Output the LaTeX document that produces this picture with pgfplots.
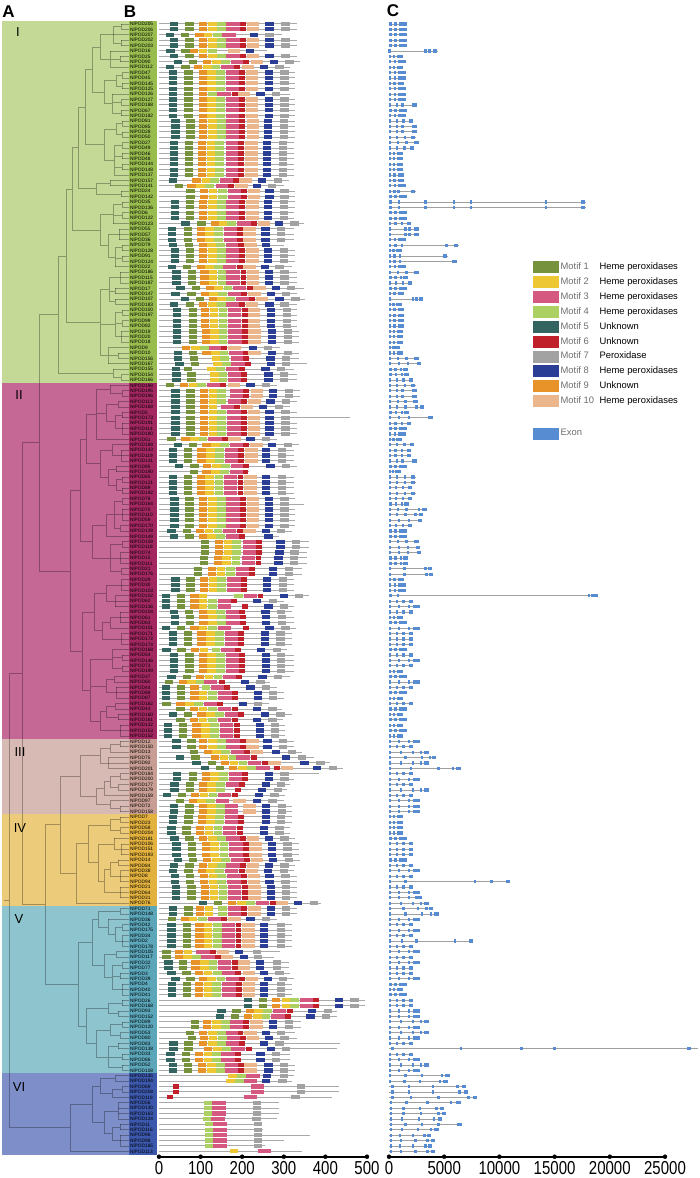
\documentclass[border=0pt]{standalone}
\usepackage{graphicx}
\usepackage{pgfplots}
\pgfplotsset{compat=1.18}
\usepackage{pgfplotstable}
\usepackage{fontspec}
\setmainfont{Liberation Sans}
\definecolor{mA}{RGB}{118,146,60}
\definecolor{mB}{RGB}{238,200,52}
\definecolor{mC}{RGB}{212,88,128}
\definecolor{mD}{RGB}{172,208,98}
\definecolor{mE}{RGB}{52,100,95}
\definecolor{mF}{RGB}{192,32,42}
\definecolor{mG}{RGB}{162,162,162}
\definecolor{mH}{RGB}{42,62,150}
\definecolor{mI}{RGB}{232,146,42}
\definecolor{mJ}{RGB}{236,182,140}
\definecolor{exon}{RGB}{88,140,210}
\definecolor{bline}{RGB}{170,170,170}
\definecolor{cline}{RGB}{160,160,160}
\definecolor{ltext}{RGB}{110,110,110}
\definecolor{Ibg}{RGB}{197,217,150}\definecolor{Ilab}{RGB}{152,188,78}
\definecolor{IIbg}{RGB}{197,104,150}\definecolor{IIlab}{RGB}{163,40,98}
\definecolor{IIIbg}{RGB}{216,186,180}\definecolor{IIIlab}{RGB}{200,158,148}
\definecolor{IVbg}{RGB}{236,204,122}\definecolor{IVlab}{RGB}{227,178,62}
\definecolor{Vbg}{RGB}{142,196,206}\definecolor{Vlab}{RGB}{92,166,186}
\definecolor{VIbg}{RGB}{126,142,200}\definecolor{VIlab}{RGB}{60,88,172}
\pgfdeclareplotmark{bw20}{\pgfpathrectangle{\pgfqpoint{-4.16pt}{-2.1pt}}{\pgfqpoint{8.32pt}{4.2pt}}\pgfusepathqfill}
\pgfdeclareplotmark{bw21}{\pgfpathrectangle{\pgfqpoint{-4.37pt}{-2.1pt}}{\pgfqpoint{8.74pt}{4.2pt}}\pgfusepathqfill}
\pgfdeclareplotmark{bw32}{\pgfpathrectangle{\pgfqpoint{-6.66pt}{-2.1pt}}{\pgfqpoint{13.31pt}{4.2pt}}\pgfusepathqfill}
\pgfdeclareplotmark{bw14}{\pgfpathrectangle{\pgfqpoint{-2.91pt}{-2.1pt}}{\pgfqpoint{5.82pt}{4.2pt}}\pgfusepathqfill}
\pgfdeclareplotmark{bw30}{\pgfpathrectangle{\pgfqpoint{-6.24pt}{-2.1pt}}{\pgfqpoint{12.48pt}{4.2pt}}\pgfusepathqfill}
\pgfdeclareplotmark{exs}{\pgfpathrectangle{\pgfqpoint{-1.2pt}{-1.6pt}}{\pgfqpoint{2.4pt}{3.2pt}}\pgfusepathqfill}
\pgfdeclareplotmark{exl}{\pgfpathrectangle{\pgfqpoint{-2.2pt}{-1.6pt}}{\pgfqpoint{4.4pt}{3.2pt}}\pgfusepathqfill}
\pgfplotstableread{
row tx L m5 m1 m9 m2 m4 m3 m6 m10 m8 m7
1 121 332 36 73 106 128 150 178 202 226 266 304
2 121 332 36 73 106 128 150 178 202 226 266 304
3 113 296 26 63 97 118 140 168 nan nan 228 266
4 121 332 36 73 106 128 150 178 202 226 266 304
5 121 332 36 73 106 128 150 178 202 226 266 304
6 110 259 28 64 84 106 128 nan nan 180 218 nan
7 120 332 36 73 106 128 150 178 202 226 266 304
8 120 340 46 82 116 138 159 188 210 236 276 314
9 110 316 26 64 94 116 137 166 188 214 252 290
10 122 328 34 71 105 126 147 176 199 224 264 302
11 122 328 34 71 105 126 147 176 199 224 264 302
12 122 328 34 71 105 126 147 176 199 224 264 302
13 122 328 34 71 105 126 147 176 199 224 264 302
14 112 316 34 71 105 nan 128 156 182 204 244 282
15 121 328 34 71 105 126 147 176 199 224 264 302
16 121 328 34 71 105 126 147 176 199 224 264 302
17 121 328 34 71 105 126 147 176 199 224 264 302
18 121 328 34 71 105 126 147 176 199 224 264 302
19 122 328 40 76 106 128 150 178 200 226 262 301
20 122 328 40 76 106 128 150 178 200 226 262 301
21 122 328 40 76 106 128 150 178 200 226 262 301
22 122 328 40 76 106 128 150 178 200 226 262 301
23 122 324 36 72 104 126 146 176 198 222 260 298
24 122 324 36 72 104 126 146 176 198 222 260 298
25 122 324 36 72 104 126 146 176 198 222 260 298
26 122 324 36 72 104 126 146 176 198 222 260 298
27 122 324 36 72 104 126 146 176 198 222 260 298
28 122 324 36 72 104 126 146 176 198 222 260 298
29 114 324 36 72 104 126 146 176 198 222 260 298
30 110 312 34 nan 90 113 134 162 186 208 248 286
31 110 300 nan 48 78 100 122 152 174 198 236 272
32 121 328 nan 76 108 130 152 182 204 228 266 302
33 121 328 nan 76 108 130 152 182 204 228 266 302
34 122 328 38 74 106 128 150 178 200 225 262 300
35 122 328 38 74 106 128 150 178 200 225 262 300
36 122 324 38 74 106 128 150 178 200 225 262 300
37 122 324 38 74 106 128 150 178 200 225 262 300
38 113 348 64 102 134 154 175 204 228 252 289 326
39 119 324 32 69 101 122 143 172 194 218 256 294
40 119 324 32 69 101 122 143 172 194 218 256 294
41 119 324 32 69 101 122 143 172 194 218 256 294
42 122 300 34 72 105 126 147 176 198 220 258 nan
43 122 328 38 74 106 128 150 178 200 225 262 300
44 122 328 38 74 106 128 150 178 200 225 262 300
45 122 328 38 74 106 128 150 178 200 225 262 300
46 115 320 32 68 101 122 143 170 194 218 254 290
47 120 332 42 79 109 130 152 178 203 226 264 302
48 120 332 42 79 109 130 152 178 203 226 264 302
49 120 332 42 79 109 130 152 178 203 226 264 302
50 115 348 52 89 122 143 166 194 218 242 282 318
51 115 332 40 78 110 131 153 182 204 230 270 306
52 115 352 62 98 130 150 172 201 223 248 290 328
53 115 332 36 74 106 128 150 177 200 224 266 302
54 122 332 44 81 111 132 154 182 206 228 270 308
55 122 332 44 81 111 132 154 182 206 228 270 308
56 122 332 44 81 111 132 154 182 206 228 270 308
57 122 332 44 81 111 132 154 182 206 228 270 308
58 121 336 44 82 113 134 154 183 207 230 272 310
59 121 336 44 82 113 134 154 183 207 230 272 310
60 121 336 44 82 113 134 154 183 207 230 272 310
61 108 292 nan nan 65 87 110 136 156 182 226 262
62 118 336 46 82 114 135 156 185 208 230 272 310
63 118 336 46 84 nan 137 158 188 210 nan 268 306
64 108 356 49 86 nan 141 162 190 213 nan 270 305
65 113 324 41 70 nan 126 148 177 200 nan 256 293
66 121 332 42 78 nan 133 154 182 205 nan 263 301
67 121 332 42 78 nan 133 154 182 205 nan 263 301
68 110 284 nan 26 60 82 103 131 154 180 220 258
69 122 338 40 76 108 130 150 186 210 236 274 312
70 122 338 40 76 108 130 150 186 210 236 274 312
71 118 332 40 76 108 130 150 182 204 230 268 306
72 118 316 40 76 108 130 nan 166 188 212 250 288
73 122 332 40 76 108 130 150 180 204 228 266 304
74 122 460 40 76 108 130 150 180 204 228 266 304
75 122 332 40 76 108 130 150 180 204 228 266 304
76 122 332 40 76 108 130 150 180 204 228 266 304
77 122 332 40 76 108 130 150 180 204 228 266 304
78 96 284 nan 30 64 86 106 135 158 182 220 258
79 112 336 46 82 114 136 158 186 209 234 272 310
80 121 324 34 70 102 124 146 174 197 222 258 296
81 121 324 34 70 102 124 146 174 197 222 258 296
82 121 324 34 70 102 124 146 174 197 222 258 296
83 116 332 48 85 116 138 159 188 210 nan 268 306
84 116 216 nan 84 114 135 157 186 208 nan nan nan
85 122 324 34 70 101 122 144 172 196 220 258 296
86 122 324 34 70 101 122 144 172 196 220 258 296
87 122 324 34 70 101 122 144 172 196 220 258 296
88 122 324 34 70 101 122 144 172 196 220 258 296
89 122 328 37 73 106 128 150 178 202 226 264 302
90 122 348 37 73 106 128 150 178 202 226 264 302
91 122 328 37 73 106 128 150 178 202 226 264 302
92 122 328 37 73 106 128 150 178 202 226 264 302
93 122 328 37 73 106 128 150 178 202 226 264 302
94 120 328 37 73 106 128 150 178 202 226 264 302
95 120 320 30 67 99 120 142 170 194 218 257 294
96 106 288 36 73 105 126 148 177 200 nan 263 nan
97 122 360 nan 110 144 166 186 218 241 nan 292 330
98 122 360 nan 110 144 166 186 218 241 nan 292 330
99 120 356 nan 110 144 166 186 218 241 nan 290 326
100 120 356 nan 108 142 163 185 215 239 nan 287 324
101 120 356 nan 108 142 163 185 215 239 nan 287 324
102 121 344 nan 94 127 149 171 200 224 nan 274 312
103 121 344 nan 94 127 149 171 200 224 nan 274 312
104 121 324 40 76 108 130 150 180 204 nan 260 298
105 121 324 40 76 108 130 150 180 204 nan 260 298
106 121 324 40 76 108 130 150 180 204 nan 260 298
107 115 360 17 53 85 106 191 220 244 nan 300 336
108 115 300 17 53 85 106 128 157 180 nan 236 274
109 115 324 17 53 85 106 128 157 206 nan 263 300
110 120 320 36 72 106 126 148 177 200 nan 256 294
111 120 324 38 74 107 129 150 178 202 nan 258 296
112 120 324 38 74 107 129 150 178 202 nan 258 296
113 110 330 17 53 85 106 128 157 210 nan 266 304
114 121 320 34 70 102 124 146 174 198 nan 254 292
115 121 320 34 70 102 124 146 174 198 nan 254 292
116 121 320 34 70 102 124 146 174 198 nan 254 292
117 112 308 18 54 87 108 137 166 190 nan 246 284
118 122 324 36 73 105 126 148 176 200 nan 257 294
119 122 324 36 73 105 126 148 176 200 nan 257 294
120 122 324 36 73 105 126 148 176 200 nan 257 294
121 122 324 36 73 105 126 148 176 200 nan 257 294
122 114 316 30 68 99 120 142 170 193 nan 249 286
123 114 268 nan 24 57 78 100 124 152 nan 206 244
124 116 284 17 53 85 nan 113 140 164 nan 220 257
125 116 300 17 53 85 106 128 159 182 nan 238 274
126 116 300 17 53 85 106 128 159 182 nan 238 274
127 115 264 nan 18 52 74 95 124 147 nan 202 238
128 115 296 nan 52 84 106 128 158 182 nan 236 273
129 118 320 34 70 102 124 146 174 198 nan 254 292
130 118 298 nan 52 84 106 128 158 182 nan 236 273
131 120 304 22 58 90 112 134 163 187 nan 242 279
132 120 304 22 58 90 112 134 163 187 nan 242 279
133 120 304 22 58 90 112 134 163 187 nan 242 279
134 120 324 42 78 106 128 150 178 202 225 261 298
135 120 324 42 78 106 128 150 178 202 225 261 298
136 110 344 nan 84 117 138 159 188 212 236 282 319
137 108 372 50 88 134 156 178 202 228 nan 306 344
138 108 412 90 128 159 180 202 230 254 278 350 388
139 108 442 110 146 178 201 222 250 284 308 380 418
140 120 384 44 81 113 134 155 184 207 nan 264 302
141 120 324 44 81 113 134 155 184 207 nan 264 302
142 118 316 37 74 105 126 148 176 199 nan 258 294
143 118 308 37 74 105 126 148 nan 189 nan 248 286
144 104 304 19 55 86 108 130 158 182 nan 241 278
145 110 300 nan 50 81 102 123 152 nan 194 235 273
146 120 320 36 73 105 126 147 175 nan 218 258 296
147 120 320 36 73 105 126 147 175 nan 218 258 296
148 120 320 34 71 103 124 146 174 198 nan 258 294
149 120 320 34 71 103 124 146 174 198 nan 258 294
150 120 316 30 66 98 120 142 170 195 nan 253 290
151 120 316 30 66 98 120 142 170 195 nan 253 290
152 114 328 37 73 106 128 150 178 201 226 265 302
153 121 336 42 79 113 134 156 185 209 232 272 309
154 121 336 42 79 113 134 156 185 209 232 272 309
155 121 336 42 79 113 134 156 185 209 232 272 309
156 118 340 46 82 116 138 159 188 212 236 274 313
157 118 328 36 73 106 128 150 178 202 226 265 302
158 120 324 34 71 103 124 146 175 199 223 262 300
159 120 332 38 74 108 130 151 180 204 228 266 304
160 120 332 38 74 108 130 151 180 204 228 266 304
161 120 332 41 78 110 132 154 182 206 230 269 306
162 120 332 41 78 110 132 154 182 206 230 269 306
163 120 332 41 78 110 132 154 182 206 230 269 306
164 76 390 106 142 176 198 220 248 274 296 334 372
165 120 332 34 71 99 120 153 182 204 230 269 306
166 120 332 34 71 99 120 153 182 204 230 269 306
167 108 284 nan 32 62 82 104 134 156 182 220 258
168 122 320 30 68 97 118 140 167 191 215 252 294
169 122 320 30 68 97 118 140 167 191 215 252 294
170 122 320 30 68 97 118 140 167 191 215 252 294
171 122 320 30 68 97 118 140 167 191 215 252 294
172 122 320 30 68 97 118 140 167 191 215 252 294
173 116 292 nan 18 48 70 nan 106 130 154 193 236
174 116 276 nan 18 48 69 90 118 142 164 204 238
175 122 312 23 58 88 110 130 158 182 204 242 284
176 122 312 23 58 88 110 130 158 182 204 242 284
177 120 316 30 66 96 118 140 168 190 216 252 290
178 120 324 40 76 106 127 149 177 200 224 262 298
179 122 320 31 68 96 118 138 168 192 216 252 294
180 122 320 31 68 96 118 138 168 192 216 252 294
181 122 320 31 68 96 118 138 168 192 216 252 294
182 122 496 214 250 282 305 326 354 378 nan 433 470
183 122 496 214 250 282 305 326 354 378 nan 433 470
184 118 428 150 186 218 240 260 289 314 nan 368 406
185 118 428 146 182 214 236 257 286 310 nan 364 402
186 122 342 nan 87 116 138 160 186 210 234 274 312
187 122 342 nan 87 116 138 160 186 210 234 274 312
188 120 328 nan 74 106 128 150 178 196 220 258 294
189 120 332 nan 80 108 130 152 180 202 226 264 302
190 118 436 35 71 106 128 150 177 199 nan 252 290
191 118 428 35 71 118 140 162 190 216 nan 270 306
192 122 316 28 65 96 118 138 166 189 nan 244 282
193 122 316 28 65 96 118 138 166 189 nan 244 282
194 122 328 34 70 104 126 147 174 197 220 263 300
195 122 328 34 70 104 126 147 174 197 220 263 300
196 115 324 nan nan nan 177 198 226 nan nan 260 300
197 115 320 nan nan nan 172 194 220 nan nan 258 297
198 122 432 nan nan nan nan nan 236 40 nan nan 342
199 122 432 nan nan nan nan nan 236 40 nan nan 342
200 112 416 nan nan nan nan nan 220 26 nan nan 328
201 118 288 nan nan nan nan 118 144 nan nan nan 236
202 118 288 nan nan nan nan 118 144 nan nan nan 236
203 118 288 nan nan nan nan 118 144 nan nan nan 236
204 118 284 nan nan nan nan 116 142 nan nan nan 234
205 120 248 nan nan nan nan 120 147 nan nan nan 238
206 120 250 nan nan nan nan 120 147 nan nan nan 238
207 120 364 nan nan nan nan 120 147 nan nan nan 238
208 120 300 nan nan nan nan 120 147 nan nan nan 238
209 120 254 nan nan nan nan 120 147 nan nan nan 238
210 70 344 nan nan nan 180 nan 254 nan nan nan nan
}\B
\pgfplotstableread{
row G e1 e2 e3 e4 e5 e6 eL
1 1600 120 580 1040 nan nan nan 1400
2 1600 120 580 1040 nan nan nan 1400
3 1600 120 580 1040 nan nan nan 1400
4 1600 120 580 1040 nan nan nan 1400
5 1600 120 580 1040 nan nan nan 1400
6 4400 50 3300 3650 nan nan nan 4150
7 1300 100 450 800 nan nan nan 1100
8 1500 100 520 950 nan nan nan 1300
9 1300 100 450 800 nan nan nan 1100
10 1500 100 520 950 nan nan nan 1300
11 1500 100 520 950 nan nan nan 1300
12 1400 100 480 880 nan nan nan 1200
13 1500 100 520 950 nan nan nan 1300
14 1500 100 520 950 nan nan nan 1300
15 1500 100 520 950 nan nan nan 1300
16 2500 100 700 1240 nan nan nan 2300
17 1600 120 580 1040 nan nan nan 1400
18 1500 100 520 950 nan nan nan 1300
19 2200 100 700 1300 nan nan nan 2000
20 2500 100 700 1240 nan nan nan 2300
21 2500 100 700 1240 nan nan nan 2300
22 2400 100 750 1450 nan nan nan 2200
23 2700 100 800 1600 nan nan nan 2500
24 2300 100 700 1400 nan nan nan 2100
25 1300 100 450 800 nan nan nan 1100
26 1300 100 450 800 nan nan nan 1100
27 1300 100 450 800 nan nan nan 1100
28 1300 100 450 800 nan nan nan 1100
29 1400 100 480 880 nan nan nan 1200
30 1400 100 480 880 nan nan nan 1200
31 1500 100 520 950 nan nan nan 1300
32 2400 100 500 850 nan nan nan 2200
33 1600 120 580 1040 nan nan nan 1400
34 17800 150 900 3300 5900 7450 14200 17550
35 17800 150 900 3300 5900 7450 14200 17550
36 1600 120 580 1040 nan nan nan 1400
37 1600 120 580 1040 nan nan nan 1400
38 2000 100 600 1200 nan nan nan 1800
39 2700 100 1500 1850 nan nan nan 2500
40 2700 100 1500 1850 nan nan nan 2500
41 1500 100 520 950 nan nan nan 1300
42 6300 100 600 1200 5200 nan nan 6050
43 1200 100 400 700 nan nan nan 1000
44 5300 100 500 1000 nan nan nan 5050
45 6200 100 500 1000 nan nan nan 5950
46 1500 100 520 950 nan nan nan 1300
47 2700 100 800 1600 nan nan nan 2500
48 1700 120 600 1100 nan nan nan 1500
49 2100 100 650 1250 nan nan nan 1900
50 1600 120 580 1040 nan nan nan 1400
51 1400 100 480 880 nan nan nan 1200
52 3100 100 2150 2500 nan nan nan 2900
53 1200 100 400 700 nan nan nan 1000
54 1400 100 480 880 nan nan nan 1200
55 1400 100 480 880 nan nan nan 1200
56 1400 100 480 880 nan nan nan 1200
57 1400 100 480 880 nan nan nan 1200
58 1300 100 450 800 nan nan nan 1100
59 1300 100 450 800 nan nan nan 1100
60 1300 100 450 800 nan nan nan 1100
61 1000 100 350 600 nan nan nan 820
62 1300 100 450 800 nan nan nan 1100
63 2700 100 800 1600 nan nan nan 2500
64 2900 100 900 1700 nan nan nan 2700
65 1700 120 600 1100 nan nan nan 1500
66 1800 120 650 1150 nan nan nan 1600
67 2200 100 700 1300 nan nan nan 2000
68 2400 100 750 1450 nan nan nan 2200
69 2500 100 700 1240 nan nan nan 2300
70 2500 100 700 1240 nan nan nan 2300
71 2600 100 800 1500 nan nan nan 2400
72 3200 100 700 1500 2500 nan nan 3000
73 1800 120 650 1150 nan nan nan 1600
74 4000 100 900 1800 nan nan nan 3750
75 2000 100 600 1200 nan nan nan 1800
76 1600 120 580 1040 nan nan nan 1400
77 1500 100 520 950 nan nan nan 1300
78 1200 100 400 700 nan nan nan 1000
79 2300 100 700 1400 nan nan nan 2100
80 2000 100 600 1200 nan nan nan 1800
81 2000 100 600 1200 nan nan nan 1800
82 2500 100 700 1240 nan nan nan 2300
83 1600 120 580 1040 nan nan nan 1400
84 1100 100 380 650 nan nan nan 900
85 2400 100 750 1450 nan nan nan 2200
86 2400 100 750 1450 nan nan nan 2200
87 2100 100 650 1250 nan nan nan 1900
88 2400 100 750 1450 nan nan nan 2200
89 2100 100 650 1250 nan nan nan 1900
90 1800 120 650 1150 nan nan nan 1600
91 3400 100 800 1600 2700 nan nan 3200
92 3100 100 700 1500 2400 nan nan 2900
93 3000 100 900 1800 nan nan nan 2800
94 2100 100 650 1250 nan nan nan 1900
95 1600 120 580 1040 nan nan nan 1400
96 1600 120 580 1040 nan nan nan 1400
97 2700 100 800 1600 nan nan nan 2500
98 2800 100 900 1700 nan nan nan 2600
99 2900 100 900 1700 nan nan nan 2700
100 1700 120 600 1100 nan nan nan 1500
101 1700 120 600 1100 nan nan nan 1500
102 3900 100 1400 3300 nan nan nan 3700
103 4000 100 1400 3400 nan nan nan 3800
104 1400 100 480 880 nan nan nan 1200
105 1500 100 520 950 nan nan nan 1300
106 1500 100 520 950 nan nan nan 1300
107 18900 150 800 18100 18400 nan nan 18700
108 2200 100 700 1300 nan nan nan 2000
109 2800 100 900 1800 2300 nan nan 2600
110 2200 100 700 1300 nan nan nan 2000
111 1300 100 450 800 nan nan nan 1100
112 1600 120 580 1040 nan nan nan 1400
113 2800 100 900 1800 2300 nan nan 2600
114 2200 100 700 1300 nan nan nan 2000
115 2200 100 700 1300 nan nan nan 2000
116 2200 100 700 1300 nan nan nan 2000
117 1600 120 580 1040 nan nan nan 1400
118 2200 100 700 1300 nan nan nan 2000
119 2800 100 900 1800 2300 nan nan 2600
120 2200 100 700 1300 nan nan nan 2000
121 1300 100 450 800 nan nan nan 1100
122 1600 120 580 1040 nan nan nan 1400
123 2800 100 900 1800 2300 nan nan 2600
124 2200 100 700 1300 nan nan nan 2000
125 1600 120 580 1040 nan nan nan 1400
126 1300 100 450 800 nan nan nan 1100
127 2200 100 700 1300 nan nan nan 2000
128 1600 120 580 1040 nan nan nan 1400
129 1300 100 450 800 nan nan nan 1100
130 1600 120 580 1040 nan nan nan 1400
131 1300 100 450 800 nan nan nan 1100
132 1600 120 580 1040 nan nan nan 1400
133 1300 100 450 800 nan nan nan 1100
134 2800 100 900 1800 2300 nan nan 2600
135 2200 100 700 1300 nan nan nan 2000
136 3600 100 1100 2200 2900 nan nan 3400
137 4300 100 1500 3000 3700 nan nan 4100
138 3600 100 1100 2200 2900 nan nan 3400
139 6500 100 2000 4500 5800 nan nan 6300
140 2200 100 700 1300 nan nan nan 2000
141 2800 100 900 1800 2300 nan nan 2600
142 2200 100 700 1300 nan nan nan 2000
143 3600 100 1100 2200 2900 nan nan 3400
144 2200 100 700 1300 nan nan nan 2000
145 2800 100 900 1800 2300 nan nan 2600
146 2800 100 900 1800 2300 nan nan 2600
147 2800 100 900 1800 2300 nan nan 2600
148 1300 100 450 800 nan nan nan 1100
149 1300 100 450 800 nan nan nan 1100
150 1300 100 450 800 nan nan nan 1100
151 1300 100 450 800 nan nan nan 1100
152 1600 120 580 1040 nan nan nan 1400
153 2200 100 700 1300 nan nan nan 2000
154 2200 100 700 1300 nan nan nan 2000
155 2200 100 700 1300 nan nan nan 2000
156 1600 120 580 1040 nan nan nan 1400
157 2200 100 700 1300 nan nan nan 2000
158 2800 100 900 1800 2300 nan nan 2600
159 2200 100 700 1300 nan nan nan 2000
160 11000 100 1500 7800 9300 nan nan 10800
161 2200 100 700 1300 nan nan nan 2000
162 2800 100 900 1800 2300 nan nan 2600
163 3000 100 900 1800 2500 nan nan 2800
164 3600 100 1100 2200 2900 nan nan 3400
165 4000 100 1300 2600 3400 nan nan 3800
166 4500 100 1500 3000 3800 nan nan 4300
167 2800 100 900 1800 2300 nan nan 2600
168 2200 100 700 1300 nan nan nan 2000
169 2800 100 900 1800 2300 nan nan 2600
170 2200 100 700 1300 nan nan nan 2000
171 7600 100 1200 2500 6000 nan nan 7400
172 2200 100 700 1300 nan nan nan 2000
173 2800 100 900 1800 2300 nan nan 2600
174 2200 100 700 1300 nan nan nan 2000
175 2800 100 900 1800 2300 nan nan 2600
176 2200 100 700 1300 nan nan nan 2000
177 2200 100 700 1300 nan nan nan 2000
178 2800 100 900 1800 2300 nan nan 2600
179 1600 120 580 1040 nan nan nan 1400
180 1300 100 450 800 nan nan nan 1100
181 1600 120 580 1040 nan nan nan 1400
182 2200 100 700 1300 nan nan nan 2000
183 2200 100 700 1300 nan nan nan 2000
184 2800 100 900 1800 2300 nan nan 2600
185 2800 100 900 1800 2300 nan nan 2600
186 3600 100 1100 2200 2900 nan nan 3400
187 2800 100 900 1800 2300 nan nan 2600
188 3600 100 1100 2200 2900 nan nan 3400
189 2800 100 900 1800 2300 nan nan 2600
190 2200 100 700 1300 nan nan nan 2000
191 28000 300 6500 12000 15000 nan nan 27200
192 2200 100 700 1300 nan nan nan 2000
193 2800 100 900 1800 2300 nan nan 2600
194 3600 100 1100 2200 2900 nan nan 3400
195 2800 100 900 1800 2300 nan nan 2600
196 5500 100 1500 3000 4800 nan nan 5300
197 5300 100 1400 2800 4600 nan nan 5100
198 7000 300 1800 4000 6200 nan nan 6800
199 7200 300 1800 4000 6400 nan nan 7000
200 8000 300 2000 4500 7200 nan nan 7800
201 6500 200 1600 3500 5600 nan nan 6300
202 5000 200 1300 2800 4300 nan nan 4800
203 5200 200 1300 2900 4500 nan nan 5000
204 4800 200 1200 2700 4100 nan nan 4600
205 6600 200 1500 3000 4500 nan nan 6400
206 4500 200 1200 2600 3800 nan nan 4300
207 3800 200 1000 2200 3200 nan nan 3600
208 4200 200 1100 2400 3500 nan nan 4000
209 3900 200 1000 2200 3300 nan nan 3700
210 4200 200 1100 2400 3500 nan nan 4000
}\C
\begin{document}
\begin{tikzpicture}
\useasboundingbox (0,0) rectangle (699pt,1178pt);
% ---------------- panel A: tree ----------------
\begin{axis}[at={(0pt,21.3pt)}, anchor=south west, scale only axis,
  width=157pt, height=1138.1pt, xmin=0, xmax=157, ymin=0, ymax=211,
  y dir=reverse, hide axis, clip=false]
\addplot[fill=Ibg, draw=none] coordinates {(2,0.5)(129,0.5)(129,67.5)(2,67.5)};
\addplot[fill=Ilab, draw=none] coordinates {(129,0.5)(157,0.5)(157,67.5)(129,67.5)};
\addplot[fill=IIbg, draw=none] coordinates {(2,67.5)(129,67.5)(129,133.5)(2,133.5)};
\addplot[fill=IIlab, draw=none] coordinates {(129,67.5)(157,67.5)(157,133.5)(129,133.5)};
\addplot[fill=IIIbg, draw=none] coordinates {(2,133.5)(129,133.5)(129,147.5)(2,147.5)};
\addplot[fill=IIIlab, draw=none] coordinates {(129,133.5)(157,133.5)(157,147.5)(129,147.5)};
\addplot[fill=IVbg, draw=none] coordinates {(2,147.5)(129,147.5)(129,164.5)(2,164.5)};
\addplot[fill=IVlab, draw=none] coordinates {(129,147.5)(157,147.5)(157,164.5)(129,164.5)};
\addplot[fill=Vbg, draw=none] coordinates {(2,164.5)(129,164.5)(129,195.5)(2,195.5)};
\addplot[fill=Vlab, draw=none] coordinates {(129,164.5)(157,164.5)(157,195.5)(129,195.5)};
\addplot[fill=VIbg, draw=none] coordinates {(2,195.5)(129,195.5)(129,210.7)(2,210.7)};
\addplot[fill=VIlab, draw=none] coordinates {(129,195.5)(157,195.5)(157,210.7)(129,210.7)};
\addplot[draw=black, opacity=0.3, line width=0.7pt, unbounded coords=jump] coordinates {
(121,1)(121,2)(nan,nan)(121,4)(121,5)(nan,nan)
(121,1.5)(113,1.5)(113,4.5)(121,4.5)(nan,nan)
(120,7)(120,8)(nan,nan)(110,6)(110,9)(nan,nan)(110,7.5)(120,7.5)(nan,nan)
(113,3)(100,3)(100,7.5)(110,7.5)(nan,nan)
(122,10)(122,11)(nan,nan)(122,12)(122,13)(nan,nan)
(122,10.5)(116,10.5)(116,12.5)(122,12.5)(nan,nan)
(121,15)(121,16)(nan,nan)(121,17)(121,18)(nan,nan)
(112,14)(112,17.5)(121,17.5)(nan,nan)(112,15.5)(121,15.5)(nan,nan)
(116,11.5)(104,11.5)(104,15.75)(112,15.75)(nan,nan)
(100,5.25)(92,5.25)(92,13.6)(104,13.6)(nan,nan)
(122,19)(122,20)(nan,nan)(122,21)(122,22)(nan,nan)
(122,19.5)(116,19.5)(116,21.5)(122,21.5)(nan,nan)
(122,23)(122,24)(nan,nan)(122,25)(122,26)(nan,nan)(122,27)(122,28)(nan,nan)
(122,23.5)(114,23.5)(114,29)(nan,nan)(114,25.5)(122,25.5)(nan,nan)(114,27.5)(122,27.5)(nan,nan)
(116,20.5)(104,20.5)(104,26.25)(114,26.25)(nan,nan)
(92,9.4)(85,9.4)(85,23.4)(104,23.4)(nan,nan)
(110,30)(110,31)(nan,nan)(121,32)(121,33)(nan,nan)
(110,30.5)(96,30.5)(96,32.5)(121,32.5)(nan,nan)
(85,16.4)(78,16.4)(78,31.5)(96,31.5)(nan,nan)
(122,34)(122,35)(nan,nan)(122,36)(122,37)(nan,nan)
(122,34.5)(113,34.5)(113,38)(nan,nan)(113,36.5)(122,36.5)(nan,nan)
(119,39)(119,41)(nan,nan)(122,42)(122,43)(nan,nan)(122,44)(122,45)(nan,nan)
(122,42.5)(115,42.5)(115,46)(nan,nan)(115,44.5)(122,44.5)(nan,nan)
(119,40)(108,40)(108,44.25)(115,44.25)(nan,nan)
(113,36.25)(100,36.25)(100,42.1)(108,42.1)(nan,nan)
(78,23.95)(72,23.95)(72,39.2)(100,39.2)(nan,nan)
(120,47)(120,49)(nan,nan)(115,50)(115,51)(nan,nan)(115,52)(115,53)(nan,nan)
(120,48)(109,48)(109,52.5)(115,52.5)(nan,nan)(109,50.5)(115,50.5)(nan,nan)
(122,54)(122,55)(nan,nan)(122,56)(122,57)(nan,nan)(121,58)(121,60)(nan,nan)
(122,54.5)(115,54.5)(115,59)(121,59)(nan,nan)(115,56.5)(122,56.5)(nan,nan)
(118,62)(118,63)(nan,nan)(108,61)(108,64)(nan,nan)(108,62.5)(118,62.5)(nan,nan)
(109,50.25)(100,50.25)(100,62.5)(108,62.5)(nan,nan)(100,56.75)(115,56.75)(nan,nan)
(72,31.6)(66,31.6)(66,56.4)(100,56.4)(nan,nan)
(121,66)(121,67)(nan,nan)(113,65)(113,66.5)(121,66.5)(nan,nan)
(66,44)(58,44)(58,65.75)(113,65.75)(nan,nan)
(122,69)(122,70)(nan,nan)(110,68)(110,69.5)(122,69.5)(nan,nan)
(118,71)(118,72)(nan,nan)(122,73)(122,74)(nan,nan)(122,75)(122,77)(nan,nan)
(122,73.5)(115,73.5)(115,76)(122,76)(nan,nan)
(118,71.5)(106,71.5)(106,74.75)(115,74.75)(nan,nan)
(110,68.75)(96,68.75)(96,78)(nan,nan)(96,73.1)(106,73.1)(nan,nan)
(121,80)(121,82)(nan,nan)(112,79)(112,81)(121,81)(nan,nan)
(116,83)(116,84)(nan,nan)(122,85)(122,86)(nan,nan)(122,87)(122,88)(nan,nan)
(122,85.5)(116,85.5)(116,87.5)(122,87.5)(nan,nan)
(116,83.5)(108,83.5)(108,86.5)(116,86.5)(nan,nan)
(112,80)(100,80)(100,85)(108,85)(nan,nan)
(122,89)(122,90)(nan,nan)(122,91)(122,93)(nan,nan)(120,94)(120,95)(nan,nan)
(122,89.5)(114,89.5)(114,94.5)(120,94.5)(nan,nan)(114,92)(122,92)(nan,nan)
(114,92)(106,92)(106,96)(nan,nan)
(122,97)(122,98)(nan,nan)(120,99)(120,101)(nan,nan)(121,102)(121,103)(nan,nan)
(122,97.5)(110,97.5)(110,102.5)(121,102.5)(nan,nan)(110,100)(120,100)(nan,nan)
(106,94)(92,94)(92,100)(110,100)(nan,nan)
(121,104)(121,106)(nan,nan)(115,107)(115,109)(nan,nan)
(121,105)(106,105)(106,108)(115,108)(nan,nan)
(120,110)(120,112)(nan,nan)(120,111)(110,111)(110,113)(nan,nan)
(121,114)(121,116)(nan,nan)(110,112)(102,112)(102,115)(121,115)(nan,nan)
(106,106.5)(94,106.5)(94,113.5)(102,113.5)(nan,nan)
(122,118)(122,119)(nan,nan)(122,120)(122,121)(nan,nan)
(112,117)(112,120.5)(122,120.5)(nan,nan)(112,118.5)(122,118.5)(nan,nan)
(114,122)(114,123)(nan,nan)(116,124)(116,126)(nan,nan)
(114,122.5)(106,122.5)(106,125)(116,125)(nan,nan)
(115,127)(115,128)(nan,nan)(118,129)(118,130)(nan,nan)
(115,127.5)(106,127.5)(106,129.5)(118,129.5)(nan,nan)
(120,131)(120,133)(nan,nan)(106,128.5)(100,128.5)(100,132)(120,132)(nan,nan)
(112,118.75)(90,118.75)(90,130.25)(100,130.25)(nan,nan)(90,123.75)(106,123.75)(nan,nan)
(96,73.4)(86,73.4)(86,82.5)(100,82.5)(nan,nan)
(86,77.95)(80,77.95)(80,97)(92,97)(nan,nan)
(94,110)(82,110)(82,124.5)(90,124.5)(nan,nan)
(80,87.5)(70,87.5)(70,117.25)(82,117.25)(nan,nan)
(120,134)(120,135)(nan,nan)(120,134.5)(110,134.5)(110,136)(nan,nan)
(108,137)(108,139)(nan,nan)(110,135.25)(100,135.25)(100,138)(108,138)(nan,nan)
(120,140)(120,141)(nan,nan)(118,142)(118,143)(nan,nan)
(120,140.5)(110,140.5)(110,142.5)(118,142.5)(nan,nan)
(110,141.5)(104,141.5)(104,144)(nan,nan)
(120,146)(120,147)(nan,nan)(110,145)(110,146.5)(120,146.5)(nan,nan)
(104,142.75)(96,142.75)(96,145.75)(110,145.75)(nan,nan)
(100,136.6)(80,136.6)(80,144.25)(96,144.25)(nan,nan)
(120,148)(120,149)(nan,nan)(120,150)(120,151)(nan,nan)
(120,148.5)(110,148.5)(110,150.5)(120,150.5)(nan,nan)
(121,153)(121,155)(nan,nan)(114,152)(114,154)(121,154)(nan,nan)
(118,156)(118,157)(nan,nan)(120,158)(120,160)(nan,nan)
(118,156.5)(110,156.5)(110,159)(120,159)(nan,nan)
(120,161)(120,163)(nan,nan)(110,157.75)(104,157.75)(104,162)(120,162)(nan,nan)
(114,153)(98,153)(98,159.9)(104,159.9)(nan,nan)
(110,149.5)(88,149.5)(88,156.4)(98,156.4)(nan,nan)
(88,152.95)(76,152.95)(76,164)(nan,nan)
(120,165)(120,166)(nan,nan)(122,168)(122,169)(nan,nan)(122,170)(122,172)(nan,nan)
(122,168.5)(115,168.5)(115,171)(122,171)(nan,nan)
(108,167)(108,169.75)(115,169.75)(nan,nan)
(120,165.5)(98,165.5)(98,168.4)(108,168.4)(nan,nan)
(116,173)(116,174)(nan,nan)(122,175)(122,176)(nan,nan)(120,177)(120,178)(nan,nan)(122,179)(122,181)(nan,nan)
(122,175.5)(112,175.5)(112,180)(122,180)(nan,nan)(112,177.5)(120,177.5)(nan,nan)
(116,173.5)(104,173.5)(104,177.75)(112,177.75)(nan,nan)
(98,166.95)(92,166.95)(92,175.6)(104,175.6)(nan,nan)
(122,182)(122,183)(nan,nan)(118,184)(118,185)(nan,nan)
(122,182.5)(108,182.5)(108,184.5)(118,184.5)(nan,nan)
(122,186)(122,187)(nan,nan)(120,188)(120,189)(nan,nan)
(122,186.5)(110,186.5)(110,188.5)(120,188.5)(nan,nan)
(118,190)(118,191)(nan,nan)(122,192)(122,193)(nan,nan)(122,194)(122,195)(nan,nan)
(118,190.5)(108,190.5)(108,194.5)(122,194.5)(nan,nan)(108,192.5)(122,192.5)(nan,nan)
(110,187.5)(96,187.5)(96,192.5)(108,192.5)(nan,nan)
(108,183.5)(86,183.5)(86,190)(96,190)(nan,nan)
(92,171.3)(78,171.3)(78,186.75)(86,186.75)(nan,nan)
(115,196)(115,197)(nan,nan)(122,198)(122,199)(nan,nan)
(122,198.5)(112,198.5)(112,200)(nan,nan)
(115,196.5)(100,196.5)(100,199.25)(112,199.25)(nan,nan)
(118,201)(118,204)(nan,nan)(120,205)(120,206)(nan,nan)(120,207)(120,209)(nan,nan)
(120,205.5)(112,205.5)(112,208)(120,208)(nan,nan)
(118,202.5)(104,202.5)(104,206.75)(112,206.75)(nan,nan)
(100,197.9)(92,197.9)(92,204.6)(104,204.6)(nan,nan)
(92,201.25)(70,201.25)(70,210)(nan,nan)
(58,54.9)(39,54.9)(39,102.4)(70,102.4)(nan,nan)
(80,140.4)(60,140.4)(60,158.5)(76,158.5)(nan,nan)
(60,149.45)(45,149.45)(45,179)(78,179)(nan,nan)
(39,78.65)(22,78.65)(22,164.2)(45,164.2)(nan,nan)
(22,121.4)(9,121.4)(9,205.6)(70,205.6)(nan,nan)
(4,163.5)(9,163.5)
};
\end{axis}
% leaf branches (distance from the label column, reversed axis)
\begin{axis}[at={(0pt,21.3pt)}, anchor=south west, scale only axis,
  width=157pt, height=1138.1pt, xmin=-28, xmax=129, x dir=reverse, ymin=0, ymax=211,
  y dir=reverse, hide axis, clip=false]
\addplot[xcomb, draw=black, opacity=0.3, line width=0.7pt, mark=none] table[x expr=129-\thisrow{tx}, y=row]{\B};
\end{axis}
% ---------------- panel B: motifs ----------------
\begin{axis}[at={(159pt,21.3pt)}, anchor=south west, scale only axis,
  width=208pt, height=1138.1pt, xmin=0, xmax=500, ymin=0, ymax=211,
  y dir=reverse, clip=false, axis line style={draw=none}, tick style={draw=none},
  major tick length=0pt,
  xtick={0,100,200,300,400,500}, xticklabel pos=lower,
  /pgf/number format/assume math mode=true,
  xticklabel={\scalebox{1}[1.25]{\pgfmathprintnumber{\tick}}},
  xticklabel style={font=\fontsize{15}{15}\selectfont, inner sep=0pt, yshift=-4pt},
  ytick={1,...,210},
  yticklabel style={font=\fontsize{4.8}{5}\selectfont, inner sep=0pt, anchor=west, xshift=-29pt},
  yticklabels={NlPOD205,NlPOD206,NlPOD207,NlPOD202,NlPOD203,NlPOD16,NlPOD25,NlPOD90,NlPOD112,NlPOD47,NlPOD45,NlPOD145,NlPOD125,NlPOD126,NlPOD127,NlPOD188,NlPOD67,NlPOD182,NlPOD81,NlPOD85,NlPOD28,NlPOD50,NlPOD27,NlPOD49,NlPOD46,NlPOD48,NlPOD144,NlPOD148,NlPOD137,NlPOD157,NlPOD141,NlPOD24,NlPOD142,NlPOD35,NlPOD136,NlPOD6,NlPOD122,NlPOD123,NlPOD55,NlPOD57,NlPOD36,NlPOD79,NlPOD128,NlPOD91,NlPOD124,NlPOD22,NlPOD186,NlPOD115,NlPOD187,NlPOD17,NlPOD147,NlPOD107,NlPOD183,NlPOD100,NlPOD197,NlPOD99,NlPOD82,NlPOD19,NlPOD20,NlPOD18,NlPOD9,NlPOD10,NlPOD156,NlPOD167,NlPOD155,NlPOD154,NlPOD166,NlPOD198,NlPOD195,NlPOD196,NlPOD113,NlPOD169,NlPOD5,NlPOD173,NlPOD191,NlPOD114,NlPOD180,NlPOD51,NlPOD189,NlPOD143,NlPOD119,NlPOD131,NlPOD95,NlPOD190,NlPOD65,NlPOD121,NlPOD89,NlPOD192,NlPOD78,NlPOD164,NlPOD70,NlPOD110,NlPOD59,NlPOD170,NlPOD129,NlPOD149,NlPOD109,NlPOD118,NlPOD74,NlPOD15,NlPOD111,NlPOD21,NlPOD176,NlPOD29,NlPOD30,NlPOD103,NlPOD102,NlPOD62,NlPOD136,NlPOD104,NlPOD61,NlPOD63,NlPOD101,NlPOD171,NlPOD172,NlPOD174,NlPOD168,NlPOD54,NlPOD146,NlPOD73,NlPOD199,NlPOD37,NlPOD60,NlPOD44,NlPOD88,NlPOD87,NlPOD162,NlPOD43,NlPOD160,NlPOD161,NlPOD132,NlPOD153,NlPOD152,NlPOD12,NlPOD150,NlPOD13,NlPOD75,NlPOD92,NlPOD201,NlPOD184,NlPOD200,NlPOD177,NlPOD179,NlPOD159,NlPOD97,NlPOD72,NlPOD158,NlPOD7,NlPOD23,NlPOD58,NlPOD204,NlPOD181,NlPOD106,NlPOD151,NlPOD193,NlPOD14,NlPOD84,NlPOD38,NlPOD8,NlPOD94,NlPOD21,NlPOD64,NlPOD31,NlPOD76,NlPOD71,NlPOD148,NlPOD36,NlPOD42,NlPOD175,NlPOD34,NlPOD2,NlPOD178,NlPOD105,NlPOD117,NlPOD32,NlPOD77,NlPOD3,NlPOD39,NlPOD4,NlPOD40,NlPOD41,NlPOD26,NlPOD168,NlPOD93,NlPOD152,NlPOD89,NlPOD120,NlPOD53,NlPOD80,NlPOD83,NlPOD138,NlPOD33,NlPOD86,NlPOD52,NlPOD108,NlPOD135,NlPOD194,NlPOD69,NlPOD208,NlPOD118,NlPOD56,NlPOD130,NlPOD163,NlPOD134,NlPOD11,NlPOD116,NlPOD96,NlPOD98,NlPOD185,NlPOD113}]
\addplot[xcomb, draw=bline, line width=1pt, mark=none] table[x=L, y=row]{\B};
\addplot[only marks, mark=bw20, color=mE] table[x=m5, y=row]{\B};
\addplot[only marks, mark=bw20, color=mA] table[x=m1, y=row]{\B};
\addplot[only marks, mark=bw20, color=mI] table[x=m9, y=row]{\B};
\addplot[only marks, mark=bw21, color=mB] table[x=m2, y=row]{\B};
\addplot[only marks, mark=bw21, color=mD] table[x=m4, y=row]{\B};
\addplot[only marks, mark=bw32, color=mC] table[x=m3, y=row]{\B};
\addplot[only marks, mark=bw14, color=mF] table[x=m6, y=row]{\B};
\addplot[only marks, mark=bw30, color=mJ] table[x=m10, y=row]{\B};
\addplot[only marks, mark=bw20, color=mH] table[x=m8, y=row]{\B};
\addplot[only marks, mark=bw20, color=mG] table[x=m7, y=row]{\B};
\addplot[black, line width=1.6pt, mark=none] coordinates {(0,211)(500,211)};
\addplot[only marks, mark=*, mark size=2pt, black] coordinates {(0,211)(100,211)(200,211)(300,211)(400,211)(500,211)};
\end{axis}
% ---------------- panel C: gene structure ----------------
\begin{axis}[at={(389pt,21.3pt)}, anchor=south west, scale only axis,
  width=276pt, height=1138.1pt, xmin=0, xmax=25000, ymin=0, ymax=211,
  y dir=reverse, clip=false, axis line style={draw=none}, tick style={draw=none},
  major tick length=0pt, ytick=\empty,
  xtick={0,5000,10000,15000,20000,25000}, xticklabel pos=lower,
  scaled x ticks=false, /pgf/number format/1000 sep={},
  /pgf/number format/assume math mode=true,
  xticklabel={\scalebox{1}[1.25]{\pgfmathprintnumber{\tick}}},
  xticklabel style={font=\fontsize{15}{15}\selectfont, inner sep=0pt, yshift=-4pt},
  legend style={at={(0.5217,0.7875)}, anchor=north west, draw=none, fill=none,
    inner sep=0pt, row sep=2.6pt, font=\fontsize{9.4}{10}\selectfont,
    /tikz/every even column/.append style={column sep=3.7pt}},
  legend cell align=left]
\addplot[xcomb, draw=cline, line width=0.8pt, mark=none, forget plot] table[x=G, y=row]{\C};
\addplot[only marks, mark=exs, color=exon, forget plot] table[x=e1, y=row]{\C};
\addplot[only marks, mark=exs, color=exon, forget plot] table[x=e2, y=row]{\C};
\addplot[only marks, mark=exs, color=exon, forget plot] table[x=e3, y=row]{\C};
\addplot[only marks, mark=exs, color=exon, forget plot] table[x=e4, y=row]{\C};
\addplot[only marks, mark=exs, color=exon, forget plot] table[x=e5, y=row]{\C};
\addplot[only marks, mark=exs, color=exon, forget plot] table[x=e6, y=row]{\C};
\addplot[only marks, mark=exl, color=exon, forget plot] table[x=eL, y=row]{\C};
\addplot[black, line width=1.6pt, mark=none, forget plot] coordinates {(0,211)(25000,211)};
\addplot[only marks, mark=*, mark size=2pt, black, forget plot] coordinates {(0,211)(5000,211)(10000,211)(15000,211)(20000,211)(25000,211)};
\addlegendimage{legend image code/.code={\fill[mA] (0pt,-5.5pt) rectangle (25pt,5.5pt);}}
\addlegendentry{\makebox[39pt][l]{\textcolor{ltext}{Motif 1}}Heme peroxidases}
\addlegendimage{legend image code/.code={\fill[mB] (0pt,-5.5pt) rectangle (25pt,5.5pt);}}
\addlegendentry{\makebox[39pt][l]{\textcolor{ltext}{Motif 2}}Heme peroxidases}
\addlegendimage{legend image code/.code={\fill[mC] (0pt,-5.5pt) rectangle (25pt,5.5pt);}}
\addlegendentry{\makebox[39pt][l]{\textcolor{ltext}{Motif 3}}Heme peroxidases}
\addlegendimage{legend image code/.code={\fill[mD] (0pt,-5.5pt) rectangle (25pt,5.5pt);}}
\addlegendentry{\makebox[39pt][l]{\textcolor{ltext}{Motif 4}}Heme peroxidases}
\addlegendimage{legend image code/.code={\fill[mE] (0pt,-5.5pt) rectangle (25pt,5.5pt);}}
\addlegendentry{\makebox[39pt][l]{\textcolor{ltext}{Motif 5}}Unknown}
\addlegendimage{legend image code/.code={\fill[mF] (0pt,-5.5pt) rectangle (25pt,5.5pt);}}
\addlegendentry{\makebox[39pt][l]{\textcolor{ltext}{Motif 6}}Unknown}
\addlegendimage{legend image code/.code={\fill[mG] (0pt,-5.5pt) rectangle (25pt,5.5pt);}}
\addlegendentry{\makebox[39pt][l]{\textcolor{ltext}{Motif 7}}Peroxidase}
\addlegendimage{legend image code/.code={\fill[mH] (0pt,-5.5pt) rectangle (25pt,5.5pt);}}
\addlegendentry{\makebox[39pt][l]{\textcolor{ltext}{Motif 8}}Heme peroxidases}
\addlegendimage{legend image code/.code={\fill[mI] (0pt,-5.5pt) rectangle (25pt,5.5pt);}}
\addlegendentry{\makebox[39pt][l]{\textcolor{ltext}{Motif 9}}Unknown}
\addlegendimage{legend image code/.code={\fill[mJ] (0pt,-5.5pt) rectangle (25pt,5.5pt);}}
\addlegendentry{\makebox[39pt][l]{\textcolor{ltext}{Motif 10}}Heme peroxidases}
\addlegendimage{empty legend}
\addlegendentry{\rule[-9.5pt]{0pt}{19pt}}
\addlegendimage{legend image code/.code={\fill[exon] (0pt,-5.5pt) rectangle (25pt,5.5pt);}}
\addlegendentry{\textcolor{ltext}{Exon}}
\end{axis}
% ---------------- labels ----------------
\node[font=\bfseries\fontsize{17}{17}\selectfont] at (8.5pt,1166.5pt) {A};
\node[font=\bfseries\fontsize{17}{17}\selectfont] at (130pt,1166.5pt) {B};
\node[font=\bfseries\fontsize{17}{17}\selectfont] at (393pt,1167pt) {C};
\node[font=\fontsize{13}{13}\selectfont] at (18pt,1145.5pt) {I};
\node[font=\fontsize{13}{13}\selectfont] at (19pt,783pt) {II};
\node[font=\fontsize{13}{13}\selectfont] at (20pt,425.8pt) {III};
\node[font=\fontsize{13}{13}\selectfont] at (20pt,350.3pt) {IV};
\node[font=\fontsize{13}{13}\selectfont] at (19pt,258.6pt) {V};
\node[font=\fontsize{13}{13}\selectfont] at (19pt,91pt) {VI};
\end{tikzpicture}
\end{document}
